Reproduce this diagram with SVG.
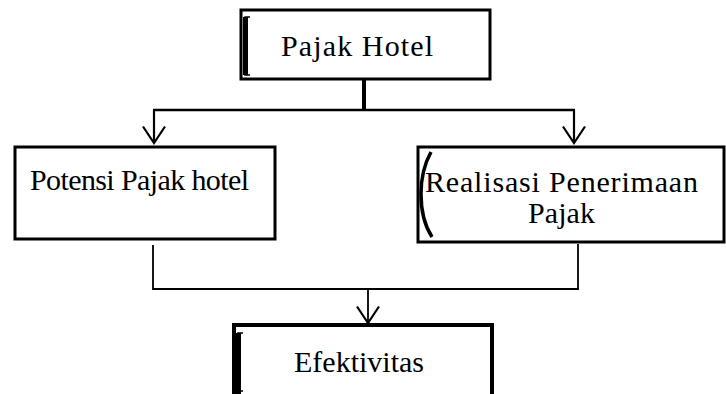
<svg xmlns="http://www.w3.org/2000/svg" width="726" height="394" viewBox="0 0 726 394">
<defs>
<style>
.box{fill:#fff;stroke:#000;stroke-width:3}
.t{font-family:"Liberation Serif","Times New Roman",serif;font-size:30px;fill:#000}
.c{fill:none;stroke:#000}
</style>
<marker id="ah" markerWidth="20" markerHeight="26" viewBox="0 0 20 26" refX="18" refY="13" orient="auto" markerUnits="userSpaceOnUse">
<path d="M1.5,2 L18,13 L1.5,24" fill="none" stroke="#000" stroke-width="2.2"/>
</marker>
</defs>
<rect width="726" height="394" fill="#fff"/>
<g id="connectors">
<line class="c" x1="364" y1="79" x2="364" y2="110" stroke-width="4"/>
<line class="c" x1="153" y1="110" x2="575" y2="110" stroke-width="2.5"/>
<path class="c" d="M154,110 V143" stroke-width="2.2" marker-end="url(#ah)"/>
<path class="c" d="M574,110 V143" stroke-width="2.2" marker-end="url(#ah)"/>
<path class="c" d="M153,245 V289 H578 V244" stroke="#333" stroke-width="1.8"/>
<path class="c" d="M368,289 V323" stroke-width="1.8" marker-end="url(#ah)"/>
</g>
<g id="pajak-hotel">
<rect class="box" x="241" y="10" width="249" height="69"/>
<path d="M250,17 H245 V75 H250" fill="none" stroke="#000" stroke-width="1.5"/>
<line x1="245.5" y1="17" x2="245.5" y2="75" stroke="#000" stroke-width="5"/>
<text class="t" x="281" y="56" textLength="152">Pajak Hotel</text>
</g>
<g id="potensi">
<rect class="box" x="15" y="147" width="260" height="92"/>
<text class="t" x="30" y="190" textLength="219">Potensi Pajak hotel</text>
</g>
<g id="realisasi">
<rect class="box" x="418" y="147" width="306" height="95"/>
<path d="M431,152 Q421,170 421,194 Q421,220 432,237" fill="none" stroke="#000" stroke-width="3.5"/>
<text class="t" x="425" y="192" textLength="273">Realisasi Penerimaan</text>
<text class="t" x="528" y="223" textLength="67">Pajak</text>
</g>
<g id="efektivitas">
<rect x="234" y="325" width="258" height="80" fill="#fff" stroke="#000" stroke-width="4"/>
<path d="M243,333 H238 V391 H243" fill="none" stroke="#000" stroke-width="1.5"/>
<line x1="238.5" y1="333" x2="238.5" y2="394" stroke="#000" stroke-width="5"/>
<text class="t" x="294" y="372" textLength="130">Efektivitas</text>
</g>
</svg>
